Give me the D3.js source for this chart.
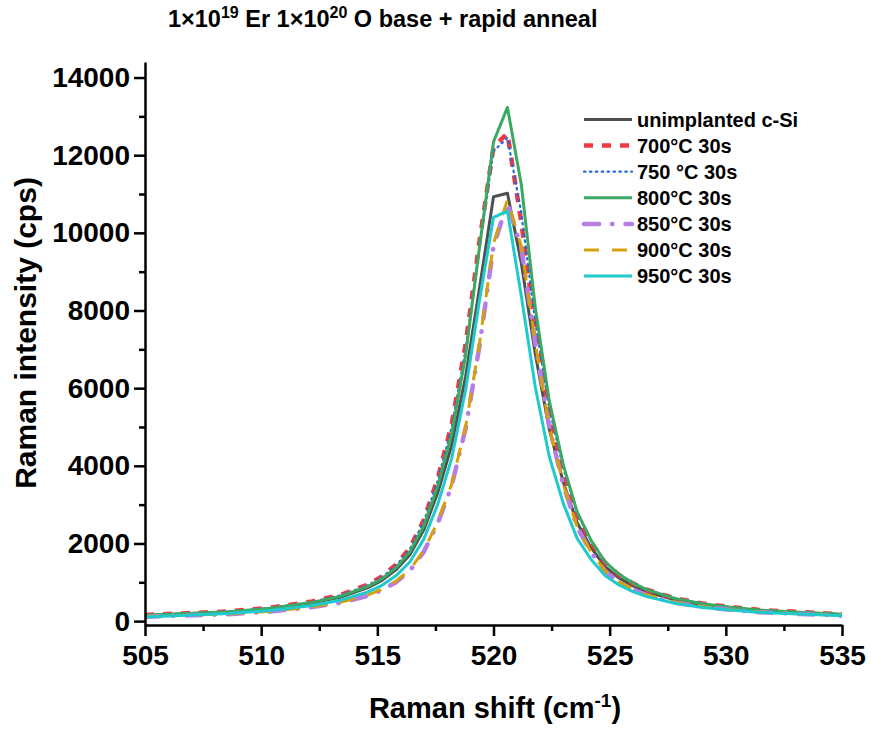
<!DOCTYPE html>
<html lang="en">
<head>
<meta charset="UTF-8">
<title>Raman spectra</title>
<script src="https://d3js.org/d3.v7.min.js"></script>
<style>
  body { margin: 0; background: #fff; }
  svg text { font-family: "Liberation Sans", Arial, sans-serif; font-weight: bold; fill: #000; }
</style>
</head>
<body>
<div id="chart"></div>
<script>
// Raman shift (cm-1) sample points, shared by all spectra
var shift = [505.0, 506.8, 508.6, 510.4, 512.2, 513.4, 514.6, 515.2, 515.8, 516.4, 517.0, 517.6, 518.2, 518.8, 519.4,
  520.0, 520.6, 521.2, 521.8, 522.4, 523.0, 523.6, 524.2, 524.8, 525.4, 526.0, 526.6, 527.8, 529.0, 530.2, 531.4, 533.2, 535.0];

var unimplanted = [147, 188, 230, 318, 466, 615, 862, 1051, 1319, 1712, 2350, 3305, 4529, 6299, 8584,
  10930, 11020, 9210, 6871, 4943, 3586, 2532, 1893, 1403, 1111, 908, 754, 548, 422, 339, 271, 217, 168];
var s700 = [159, 204, 250, 345, 507, 671, 943, 1151, 1450, 1886, 2601, 3676, 5076, 7124, 9796,
  12217, 12560, 10258, 7536, 5368, 3872, 2726, 2034, 1506, 1192, 974, 808, 589, 453, 364, 291, 233, 180];
var s750 = [157, 200, 246, 340, 498, 660, 925, 1130, 1425, 1855, 2560, 3620, 4990, 7010, 9650,
  12100, 12450, 10500, 7700, 5480, 3950, 2780, 2070, 1530, 1210, 985, 815, 592, 452, 362, 288, 230, 178];
var s800 = [153, 195, 239, 330, 483, 638, 894, 1090, 1370, 1783, 2457, 3478, 4824, 6849, 9645,
  12340, 13230, 11230, 8072, 5671, 4036, 2810, 2080, 1530, 1205, 980, 810, 586, 449, 360, 287, 229, 177];
var s850 = [115, 146, 178, 246, 360, 470, 655, 800, 1000, 1300, 1785, 2520, 3490, 4960, 7100,
  9650, 10780, 9600, 7150, 5000, 3510, 2420, 1770, 1290, 1005, 812, 668, 478, 364, 290, 231, 184, 141];
var s900 = [118, 151, 184, 253, 369, 484, 674, 819, 1025, 1326, 1816, 2555, 3527, 5010, 7159,
  9730, 10850, 9641, 7159, 5010, 3527, 2427, 1778, 1296, 1013, 819, 674, 484, 369, 294, 234, 186, 143];
var s950 = [105, 150, 198, 274, 403, 535, 754, 923, 1166, 1524, 2112, 3008, 4192, 5953, 8277,
  10400, 10560, 8360, 6024, 4241, 3039, 2132, 1588, 1175, 930, 760, 631, 459, 353, 284, 228, 182, 141];

var seriesNames = ["unimplanted c-Si", "700°C 30s", "750 °C 30s", "800°C 30s", "850°C 30s", "900°C 30s", "950°C 30s"];
var seriesValues = [unimplanted, s700, s750, s800, s850, s900, s950];

var yTicks = [0, 2000, 4000, 6000, 8000, 10000, 12000, 14000];
var yMinor = [1000, 3000, 5000, 7000, 9000, 11000, 13000];
var xTicks = [505, 510, 515, 520, 525, 530, 535];
var xMinor = [507.5, 512.5, 517.5, 522.5, 527.5, 532.5];

var styles = [
  { color: "#505050", width: 3, dash: null, cap: "butt" },
  { color: "#ef3a44", width: 4.5, dash: "9,9", cap: "butt" },
  { color: "#2468d9", width: 2.2, dash: "1.5,4.4", cap: "round" },
  { color: "#3aa962", width: 3, dash: null, cap: "butt" },
  { color: "#b47ee3", width: 4.5, dash: "15,13,0.5,13", cap: "round" },
  { color: "#d6a00c", width: 3, dash: "15,13", cap: "butt" },
  { color: "#1fcacc", width: 3, dash: null, cap: "butt" }
];

var W = 871, H = 729;
var mLeft = 145, mRight = 842, mTop = 62, mBottom = 625;

var svg = d3.select("#chart").append("svg")
  .attr("width", W).attr("height", H);

var x = d3.scaleLinear().domain([505, 535]).range([mLeft, mRight]);
var y = d3.scaleLinear().domain([-100, 14400]).range([mBottom, mTop]);

// data lines
var line = d3.line()
  .x(function(d) { return x(d[0]); })
  .y(function(d) { return y(d[1]); });

svg.append("clipPath").attr("id", "plotclip")
  .append("rect").attr("x", mLeft).attr("y", mTop).attr("width", mRight - mLeft).attr("height", mBottom - mTop);

seriesValues.forEach(function(vals, i) {
  var pts = shift.map(function(s, j) { return [s, vals[j]]; });
  svg.append("path")
    .attr("d", line(pts))
    .attr("clip-path", "url(#plotclip)")
    .attr("fill", "none")
    .attr("stroke", styles[i].color)
    .attr("stroke-width", styles[i].width)
    .attr("stroke-dasharray", styles[i].dash)
    .attr("stroke-linecap", styles[i].cap)
    .attr("stroke-linejoin", "round");
});

// axes
svg.append("g")
  .attr("transform", "translate(" + mLeft + ",0)")
  .call(d3.axisLeft(y).tickValues(yTicks).tickSize(11).tickSizeOuter(0).tickPadding(4).tickFormat(d3.format("d")));
var yAxisMinor = svg.append("g")
  .attr("transform", "translate(" + mLeft + ",0)")
  .call(d3.axisLeft(y).tickValues(yMinor).tickSize(6).tickFormat(""));
yAxisMinor.select(".domain").remove();

svg.append("g")
  .attr("transform", "translate(0," + mBottom + ")")
  .call(d3.axisBottom(x).tickValues(xTicks).tickSize(11).tickSizeOuter(0).tickPadding(9));
var xAxisMinor = svg.append("g")
  .attr("transform", "translate(0," + mBottom + ")")
  .call(d3.axisBottom(x).tickValues(xMinor).tickSize(6).tickFormat(""));
xAxisMinor.select(".domain").remove();

svg.selectAll(".domain, .tick line")
  .attr("stroke", "#000").attr("stroke-width", 2.5);
svg.selectAll(".tick text")
  .attr("font-size", "28px")
  .style("font-family", "'Liberation Sans', Arial, sans-serif")
  .style("font-weight", "bold");

// axis titles
svg.append("text")
  .attr("transform", "translate(36,333) rotate(-90)")
  .attr("text-anchor", "middle")
  .attr("font-size", "30px")
  .text("Raman intensity (cps)");

var xt = svg.append("text")
  .attr("x", 495).attr("y", 718)
  .attr("text-anchor", "middle")
  .attr("font-size", "29px");
xt.append("tspan").text("Raman shift (cm");
xt.append("tspan").attr("dy", -11).attr("font-size", "19px").text("-1");
xt.append("tspan").attr("dy", 11).text(")");

// title
var title = svg.append("text")
  .attr("x", 168).attr("y", 27)
  .attr("font-size", "23.5px");
title.append("tspan").text("1×10");
title.append("tspan").attr("dy", -9).attr("font-size", "16px").text("19");
title.append("tspan").attr("dy", 9).text(" Er 1×10");
title.append("tspan").attr("dy", -9).attr("font-size", "16px").text("20");
title.append("tspan").attr("dy", 9).text(" O base + rapid anneal");

// legend
var legend = svg.append("g");
seriesNames.forEach(function(name, i) {
  var ly = 119.5 + i * 26.1;
  legend.append("line")
    .attr("x1", 584).attr("x2", 632)
    .attr("y1", ly).attr("y2", ly)
    .attr("stroke", styles[i].color)
    .attr("stroke-width", styles[i].width)
    .attr("stroke-dasharray", styles[i].dash)
    .attr("stroke-linecap", styles[i].cap);
  legend.append("text")
    .attr("x", 637).attr("y", ly + 7)
    .attr("font-size", "20px")
    .text(name);
});
</script>
</body>
</html>
